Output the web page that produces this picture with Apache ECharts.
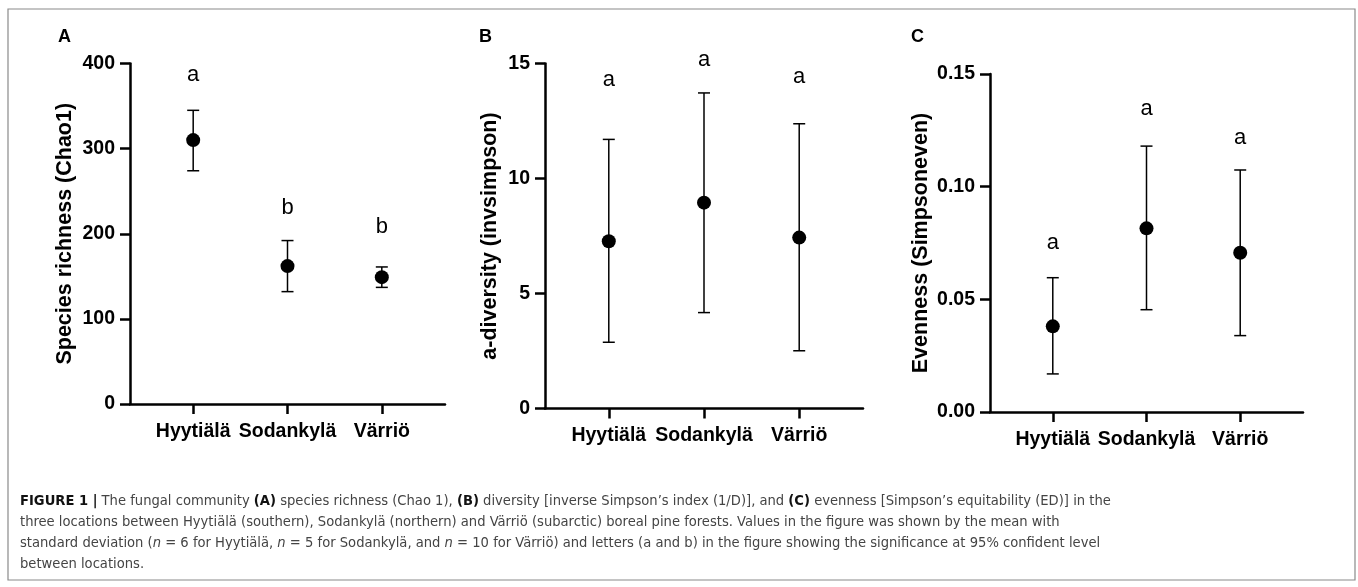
<!DOCTYPE html>
<html>
<head>
<meta charset="utf-8">
<script src="https://cdn.jsdelivr.net/npm/echarts@6/dist/echarts.min.js"></script>
<style>
html,body{margin:0;padding:0;background:#fff;}
#chart{width:1358px;height:587px;}
</style>
</head>
<body>
<div id="chart"></div>
<script>
// ---- data ----
const categories = ['Hyytiälä', 'Sodankylä', 'Värriö'];

const richnessMean = [310, 162, 149];
const richnessLow = [274, 132, 137];
const richnessHigh = [345, 192, 161];
const richnessLetters = ['a', 'b', 'b'];
const richnessLetterAt = [386, 230, 208];

const diversityMean = [7.27, 8.95, 7.43];
const diversityLow = [2.88, 4.17, 2.51];
const diversityHigh = [11.7, 13.72, 12.38];
const diversityLetters = ['a', 'a', 'a'];
const diversityLetterAt = [14.3, 15.15, 14.4];

const evennessMean = [0.038, 0.0815, 0.0707];
const evennessLow = [0.0169, 0.0454, 0.0339];
const evennessHigh = [0.0596, 0.118, 0.1074];
const evennessLetters = ['a', 'a', 'a'];
const evennessLetterAt = [0.0752, 0.1345, 0.1218];

const yTitles = ['Species richness (Chao1)', 'a-diversity (invsimpson)', 'Evenness (Simpsoneven)'];
const panelLabels = ['A', 'B', 'C'];

const captionLines = [
  '{b|FIGURE 1 |} The fungal community {b|(A)} species richness (Chao 1), {b|(B)} diversity [inverse Simpson\u2019s index (1/D)], and {b|(C)} evenness [Simpson\u2019s equitability (ED)] in the',
  'three locations between Hyytiälä (southern), Sodankylä (northern) and Värriö (subarctic) boreal pine forests. Values in the figure was shown by the mean with',
  'standard deviation ({i|n} = 6 for Hyytiälä, {i|n} = 5 for Sodankylä, and {i|n} = 10 for Värriö) and letters (a and b) in the figure showing the significance at 95% confident level',
  'between locations.'
];

// ---- chart ----
const FONT = '"Liberation Sans", Arial, Helvetica, sans-serif';
const CAPFONT = '"Liberation Sans Narrow", "DejaVu Sans Condensed", "Liberation Sans", sans-serif';

const panels = [
  {mean: richnessMean, low: richnessLow, high: richnessHigh, letters: richnessLetters, letterAt: richnessLetterAt,
   min: 0, max: 400, interval: 100, fmt: v => String(v), grid: {left: 130, top: 63.5, width: 315, height: 340.5}, nameGap: 54},
  {mean: diversityMean, low: diversityLow, high: diversityHigh, letters: diversityLetters, letterAt: diversityLetterAt,
   min: 0, max: 15, interval: 5, fmt: v => String(v), grid: {left: 545, top: 63.5, width: 318, height: 345}, nameGap: 44},
  {mean: evennessMean, low: evennessLow, high: evennessHigh, letters: evennessLetters, letterAt: evennessLetterAt,
   min: 0, max: 0.15, interval: 0.05, fmt: v => v.toFixed(2), grid: {left: 990, top: 74, width: 313, height: 338}, nameGap: 58}
];

const grids = [], xAxes = [], yAxes = [], series = [];
panels.forEach((p, i) => {
  grids.push(Object.assign({containLabel: false}, p.grid));
  xAxes.push({
    type: 'value', gridIndex: i, min: 0.33, max: 3.67,
    axisLine: {show: true, onZero: false, lineStyle: {color: '#000', width: 2.5}},
    axisTick: {show: true, length: 10, lineStyle: {color: '#000', width: 2.5}, customValues: [1, 2, 3]},
    axisLabel: {show: true, customValues: [1, 2, 3], margin: 17.5, color: '#000', fontFamily: FONT, fontWeight: 'bold', fontSize: 19.5,
      formatter: v => categories[Math.round(v) - 1] || ''},
    splitLine: {show: false}
  });
  yAxes.push({
    type: 'value', gridIndex: i, min: p.min, max: p.max, interval: p.interval,
    name: yTitles[i], nameLocation: 'middle', nameGap: p.nameGap,
    nameTextStyle: {color: '#000', fontFamily: FONT, fontWeight: 'bold', fontSize: 21.5},
    axisLine: {show: true, onZero: false, lineStyle: {color: '#000', width: 2.5}},
    axisTick: {show: true, length: 10, lineStyle: {color: '#000', width: 2.5}},
    axisLabel: {margin: 15, color: '#000', fontFamily: FONT, fontWeight: 'bold', fontSize: 19.5, formatter: p.fmt},
    splitLine: {show: false}
  });
  series.push({
    type: 'custom', xAxisIndex: i, yAxisIndex: i,
    data: categories.map((c, k) => [k + 1, p.low[k], p.high[k]]),
    encode: {x: 0, y: [1, 2]},
    renderItem: (params, api) => {
      const x = api.value(0);
      const lo = api.coord([x, api.value(1)]);
      const hi = api.coord([x, api.value(2)]);
      const w = 6;
      const st = {stroke: '#000', lineWidth: 1.5};
      return {type: 'group', children: [
        {type: 'line', shape: {x1: lo[0], y1: lo[1], x2: hi[0], y2: hi[1]}, style: st},
        {type: 'line', shape: {x1: hi[0] - w, y1: hi[1], x2: hi[0] + w, y2: hi[1]}, style: st},
        {type: 'line', shape: {x1: lo[0] - w, y1: lo[1], x2: lo[0] + w, y2: lo[1]}, style: st}
      ]};
    },
    z: 2
  });
  series.push({
    type: 'scatter', xAxisIndex: i, yAxisIndex: i,
    data: categories.map((c, k) => [k + 1, p.mean[k]]),
    symbol: 'circle', symbolSize: 14, itemStyle: {color: '#000', opacity: 1}, z: 3
  });
  series.push({
    type: 'custom', xAxisIndex: i, yAxisIndex: i,
    data: categories.map((c, k) => [k + 1, p.letterAt[k], p.letters[k]]),
    encode: {x: 0, y: 1},
    renderItem: (params, api) => {
      const pt = api.coord([api.value(0), api.value(1)]);
      return {type: 'text', x: pt[0], y: pt[1], style: {
        text: String(api.value(2)), fill: '#000', fontFamily: FONT, fontSize: 22,
        align: 'center', verticalAlign: 'middle'}};
    },
    z: 3
  });
});

const graphics = [
  {type: 'rect', shape: {x: 8, y: 9, width: 1347, height: 571}, style: {fill: 'none', stroke: '#8a8a8a', lineWidth: 1.2}, silent: true},
  {type: 'text', x: 58, y: 37, style: {text: panelLabels[0], fill: '#000', fontFamily: FONT, fontWeight: 'bold', fontSize: 18, verticalAlign: 'middle'}},
  {type: 'text', x: 479, y: 37, style: {text: panelLabels[1], fill: '#000', fontFamily: FONT, fontWeight: 'bold', fontSize: 18, verticalAlign: 'middle'}},
  {type: 'text', x: 911, y: 37, style: {text: panelLabels[2], fill: '#000', fontFamily: FONT, fontWeight: 'bold', fontSize: 18, verticalAlign: 'middle'}}
];
const capRich = {
  b: {fontFamily: CAPFONT, fontSize: 14.6, fontWeight: 'bold', fill: '#111'},
  i: {fontFamily: CAPFONT, fontSize: 14.6, fontStyle: 'italic', fill: '#444'}
};
captionLines.forEach((line, k) => {
  graphics.push({type: 'text', x: 20, y: 501 + k * 21, style: {
    text: line, rich: capRich, fill: '#444', fontFamily: CAPFONT, fontSize: 14.6, verticalAlign: 'middle'}});
});

const chart = echarts.init(document.getElementById('chart'), null, {renderer: 'canvas'});
chart.setOption({
  animation: false,
  backgroundColor: '#fff',
  grid: grids, xAxis: xAxes, yAxis: yAxes, series: series,
  graphic: graphics
});
</script>
</body>
</html>
